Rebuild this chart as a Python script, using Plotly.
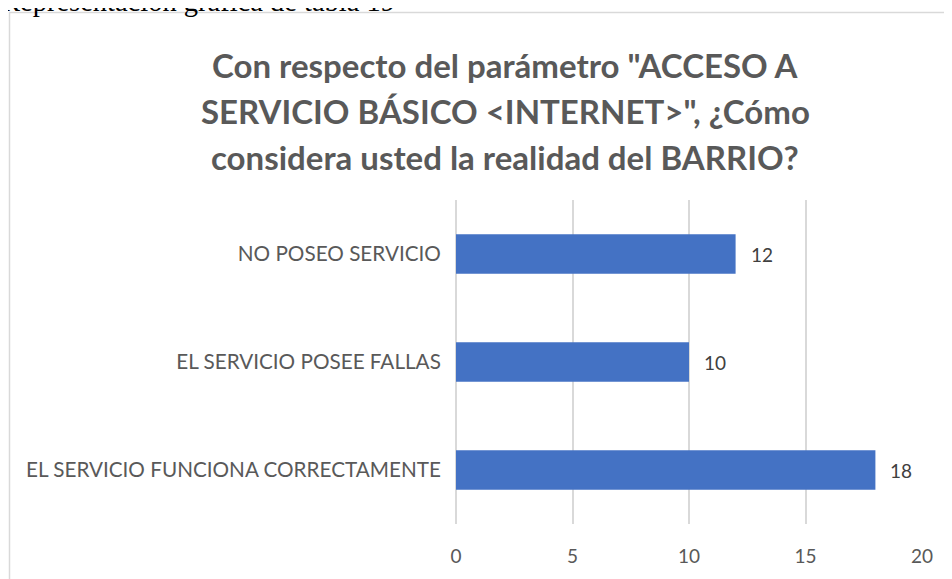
import plotly.graph_objects as go

categories = ["EL SERVICIO FUNCIONA CORRECTAMENTE", "EL SERVICIO POSEE FALLAS", "NO POSEO SERVICIO"]
values = [18, 10, 12]
x_ticks = [0, 5, 10, 15, 20]
title_lines = ['Con respecto del parámetro "ACCESO A',
               'SERVICIO BÁSICO &lt;INTERNET&gt;", ¿Cómo',
               'considera usted la realidad del BARRIO?']
caption = "Representación gráfica de tabla 19"

# page has an 8px body margin; figure fits the 952x579 window
OFF = 8
W, H = 952 - OFF, 579 - OFF
PLOT_X0, PLOT_X1, PLOT_Y0, PLOT_Y1 = 456, 922, 200, 524  # page pixels
L, R = PLOT_X0 - OFF, 952 - PLOT_X1
T, B = PLOT_Y0 - OFF, 579 - PLOT_Y1
pw, ph = W - L - R, H - T - B

def px_x(px):
    return (px - PLOT_X0) / pw

def px_y(py):
    return (PLOT_Y1 - py) / ph

FONT = "Lato, Open Sans, sans-serif"

fig = go.Figure()
fig.add_trace(go.Bar(
    x=values, y=categories, orientation="h",
    marker=dict(color="#4472C4", line=dict(width=0)),
    width=0.366, hoverinfo="skip",
))

annotations = []
for v, c in zip(values, categories):
    annotations.append(dict(x=v, y=c, xref="x", yref="y", text=str(v), showarrow=False,
                            xanchor="left", yanchor="middle", xshift=13,
                            font=dict(family=FONT, size=19, color="#404040")))
for i, line in enumerate(title_lines):
    annotations.append(dict(x=px_x(505), y=px_y(65 + 46 * i), xref="paper", yref="paper",
                            text=line, showarrow=False, xanchor="center", yanchor="middle",
                            font=dict(family=FONT, size=33, color="#595959", weight="bold")))
annotations.append(dict(x=px_x(-1), y=px_y(2), xref="paper", yref="paper", text=caption,
                        showarrow=False, xanchor="left", yanchor="middle",
                        font=dict(family="Liberation Serif, Times New Roman, serif", size=28.5,
                                  color="#000000")))

fig.update_layout(
    width=W, height=H,
    margin=dict(l=L, r=R, t=T, b=B, pad=0),
    paper_bgcolor="white", plot_bgcolor="white",
    showlegend=False,
    annotations=annotations,
    shapes=[dict(type="rect", xref="paper", yref="paper",
                 x0=px_x(9.5), x1=px_x(1000), y0=px_y(640), y1=px_y(12.5),
                 line=dict(color="#D9D9D9", width=1.5), fillcolor="rgba(0,0,0,0)", layer="below")],
    xaxis=dict(range=[0, 20], tickvals=x_ticks, showgrid=True, gridcolor="#D9D9D9", gridwidth=1.5,
               zeroline=True, zerolinecolor="#D9D9D9", zerolinewidth=1.5, showline=False,
               ticks="outside", ticklen=15, tickcolor="rgba(0,0,0,0)",
               tickfont=dict(family=FONT, size=19, color="#595959"),
               fixedrange=True),
    yaxis=dict(categoryorder="array", categoryarray=categories, showgrid=False, zeroline=False,
               showline=False, ticks="outside", ticklen=10, tickcolor="rgba(0,0,0,0)",
               tickfont=dict(family=FONT, size=20.7, color="#595959"),
               range=[-0.5, 2.5], fixedrange=True),
)

fig.write_html("out.html")
